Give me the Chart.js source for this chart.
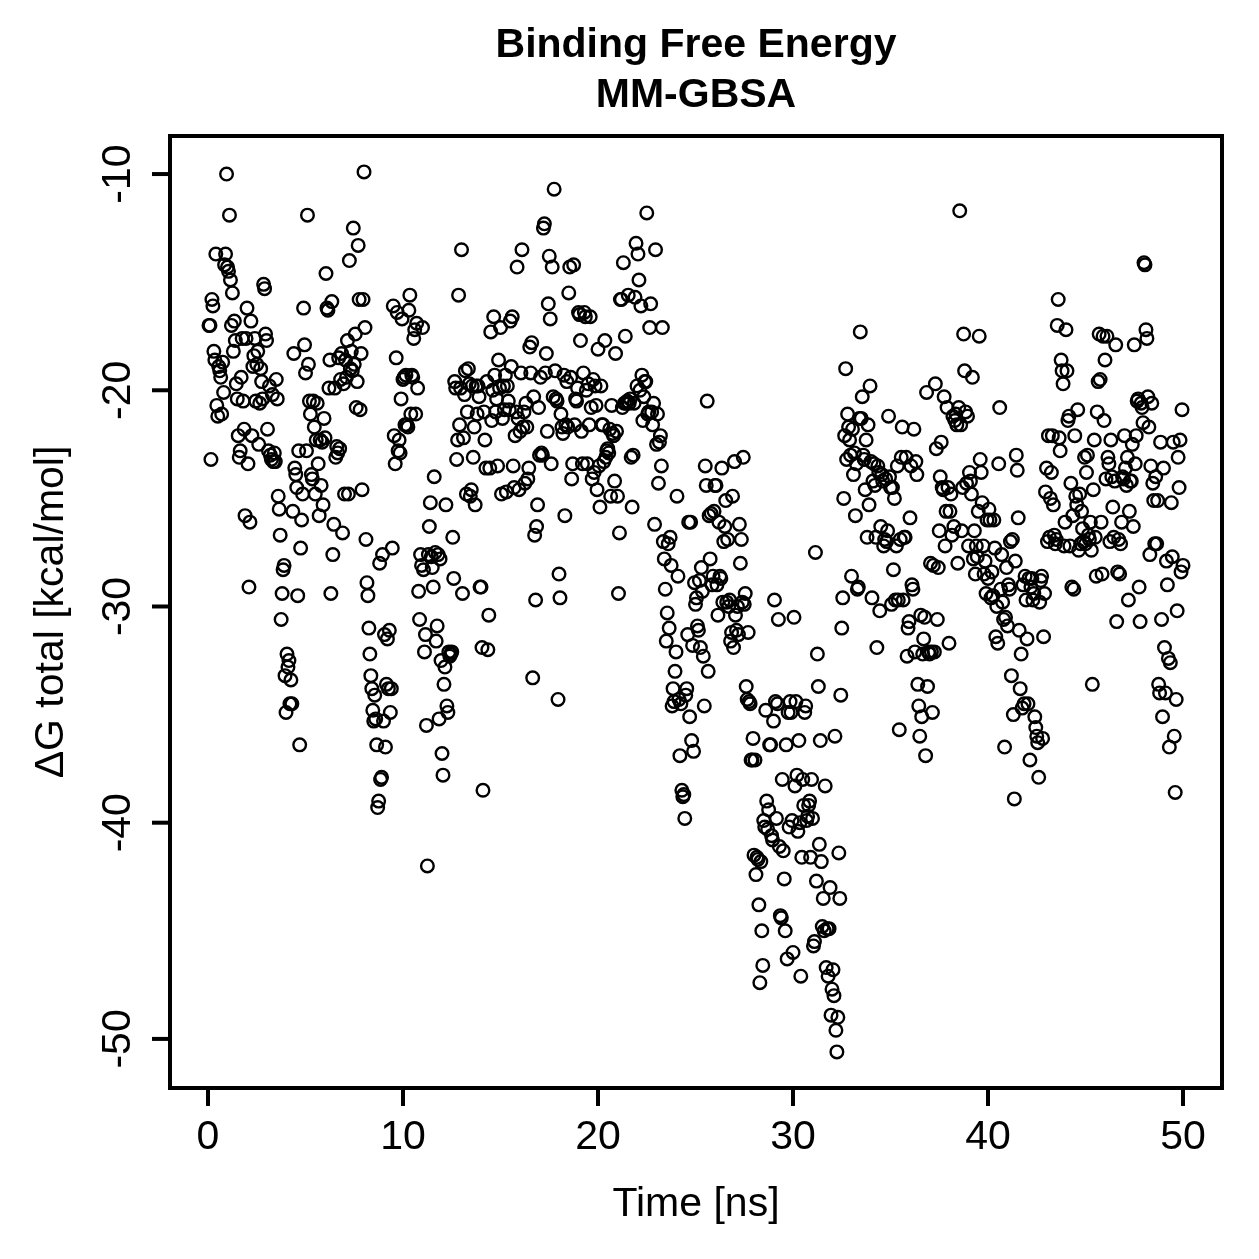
<!DOCTYPE html>
<html>
<head>
<meta charset="utf-8">
<script src="https://cdn.jsdelivr.net/npm/chart.js@4.4.1/dist/chart.umd.min.js"></script>
<style>
html,body{margin:0;padding:0;background:#fff;}
canvas{display:block;}
</style>
</head>
<body>
<canvas id="c" width="1259" height="1259"></canvas>
<script>
// Frame sampling step of the trajectory (ns per frame)
const frameStepNs = 0.05;

// ΔG total (kcal/mol), frames 1-200 (0-10 ns)
const dG_00_10ns = [
-17.0,-17.0,-23.2,-15.8,-16.1,-18.2,-18.6,-13.7,-20.7,-21.2,-18.9,-19.1,-19.4,-21.1,-18.7,-20.1,-14.2,-13.7,-10.0,-14.3,
-14.5,-11.9,-14.9,-17.0,-15.5,-18.2,-16.8,-17.7,-19.7,-20.4,-22.1,-23.1,-22.8,-19.4,-17.6,-20.5,-21.8,-25.8,-17.6,-16.2,
-23.4,-29.1,-26.1,-16.8,-22.1,-18.9,-18.4,-17.6,-20.5,-18.8,-18.2,-22.5,-20.6,-19.0,-19.6,-20.4,-15.1,-15.3,-17.4,-17.7,
-21.8,-22.8,-19.8,-23.0,-23.2,-20.2,-23.3,-22.9,-23.3,-19.5,-20.4,-24.9,-25.5,-26.7,-30.6,-29.4,-28.3,-28.1,-33.2,-34.9,
-32.2,-32.8,-32.5,-34.5,-33.4,-34.5,-25.6,-18.3,-23.6,-23.9,-24.5,-29.5,-22.8,-36.4,-27.3,-26.0,-24.8,-16.2,-17.9,-19.2,
-22.8,-11.9,-18.8,-20.5,-21.1,-23.9,-24.1,-20.5,-21.7,-24.8,-22.3,-20.6,-23.4,-25.8,-22.3,-24.4,-22.4,-25.3,-21.3,-22.2,
-14.6,-16.2,-16.3,-19.9,-18.6,-29.4,-15.9,-27.6,-26.2,-19.9,-23.1,-22.6,-22.9,-18.5,-22.7,-19.5,-18.3,-26.6,-19.7,-24.8,
-18.6,-19.4,-17.7,-24.8,-14.0,-19.0,-18.2,-19.1,-12.5,-18.8,-17.4,-20.8,-19.6,-13.3,-15.8,-20.9,-18.3,-24.6,-15.8,-9.9,
-17.1,-26.9,-28.9,-29.5,-31.0,-32.2,-33.2,-33.8,-34.8,-35.3,-34.1,-35.2,-36.4,-39.3,-39.0,-28.0,-38.0,-37.9,-27.6,-35.3,
-31.3,-36.5,-33.6,-31.5,-33.8,-31.1,-34.9,-33.8,-27.3,-16.1,-22.1,-23.4,-18.5,-16.4,-22.8,-22.3,-22.9,-20.4,-16.7,-19.5
];

// frames 201-400 (10-20 ns)
const dG_10_20ns = [
-19.4,-21.6,-19.3,-21.6,-21.7,-16.3,-15.6,-21.1,-19.3,-19.4,-17.6,-17.2,-21.1,-16.9,-19.9,-29.3,-30.6,-27.6,-28.1,-17.1,
-28.3,-32.1,-31.3,-35.5,-42.0,-27.6,-26.3,-25.2,-27.7,-28.2,-29.1,-24.0,-27.5,-31.6,-30.9,-27.6,-35.2,-27.8,-32.5,-36.8,
-37.8,-33.6,-32.8,-25.3,-34.6,-34.9,-32.1,-32.3,-32.2,-32.1,-26.8,-28.7,-19.6,-19.9,-23.2,-22.3,-15.6,-21.6,-19.9,-13.5,
-29.4,-22.2,-20.2,-19.1,-24.8,-21.0,-19.0,-19.7,-24.9,-24.6,-19.8,-23.1,-21.7,-25.3,-19.8,-21.1,-19.8,-20.3,-29.1,-29.1,
-31.9,-38.5,-21.0,-22.3,-23.6,-19.6,-32.0,-30.4,-23.6,-17.3,-21.4,-20.0,-16.6,-19.3,-21.0,-20.4,-23.5,-18.6,-19.9,-17.1,
-24.8,-21.3,-19.8,-20.9,-19.3,-24.7,-19.8,-20.5,-20.9,-16.8,-18.9,-16.6,-23.5,-24.5,-22.1,-21.0,-14.3,-21.3,-24.6,-21.9,
-19.2,-13.5,-21.7,-21.0,-24.3,-20.6,-21.7,-24.1,-23.6,-18.0,-19.2,-17.8,-33.3,-20.3,-26.7,-29.7,-26.3,-25.3,-20.8,-23.0,
-19.4,-22.9,-23.0,-12.5,-12.3,-19.2,-18.3,-21.9,-16.0,-13.8,-16.7,-23.4,-14.3,-20.3,-10.7,-19.1,-20.4,-20.5,-34.3,-28.5,
-29.6,-21.1,-21.7,-22.0,-19.3,-25.8,-21.6,-19.6,-21.7,-15.5,-14.3,-19.4,-24.1,-23.4,-14.2,-21.6,-20.4,-20.5,-19.9,-16.4,
-16.5,-17.7,-21.9,-23.4,-19.2,-16.4,-16.6,-20.0,-23.4,-19.7,-21.6,-16.6,-20.8,-24.1,-19.5,-23.8,-19.8,-20.7,-24.6,-18.1
];

// frames 401-600 (20-30 ns)
const dG_20_30ns = [
-23.5,-25.4,-19.8,-21.6,-21.6,-23.3,-17.7,-23.1,-22.8,-22.7,-22.9,-21.8,-24.9,-20.7,-22.0,-22.1,-24.2,-18.3,-21.9,-24.9,
-29.4,-26.6,-15.8,-15.8,-20.8,-14.1,-20.6,-17.5,-20.6,-20.5,-15.6,-20.6,-20.4,-23.1,-25.4,-23.0,-20.6,-15.7,-13.2,-19.8,
-13.7,-14.9,-20.0,-16.1,-19.3,-21.4,-20.3,-19.6,-19.6,-11.8,-21.1,-21.0,-17.1,-16.0,-21.0,-21.6,-20.6,-26.2,-13.5,-22.5,
-21.1,-24.3,-22.4,-22.1,-23.5,-17.1,-27.0,-27.8,-29.2,-31.6,-30.3,-27.1,-31.0,-26.8,-28.1,-34.6,-33.8,-34.4,-33.0,-32.1,
-24.9,-28.6,-34.3,-36.9,-34.5,-38.5,-38.8,-38.7,-39.8,-34.1,-33.8,-31.3,-26.1,-35.1,-26.1,-36.2,-31.8,-36.7,-28.9,-29.9,
-29.6,-30.9,-31.1,-28.8,-31.9,-28.2,-29.3,-32.3,-34.6,-23.5,-24.4,-20.5,-33.0,-25.8,-27.8,-25.7,-29.0,-28.6,-25.6,-24.4,
-24.4,-29.0,-30.4,-26.1,-28.6,-28.7,-23.6,-29.8,-27.0,-26.3,-25.1,-29.8,-26.9,-30.0,-29.7,-31.6,-31.2,-24.9,-31.9,-23.3,
-30.4,-31.1,-30.0,-31.3,-26.2,-28.0,-26.9,-29.8,-23.1,-29.9,-29.4,-33.7,-34.3,-31.2,-34.4,-34.5,-37.1,-37.1,-36.1,-41.5,
-37.1,-42.4,-41.6,-41.7,-43.8,-47.4,-41.8,-45.0,-46.6,-39.9,-40.2,-34.8,-39.0,-40.3,-39.4,-36.4,-36.4,-40.6,-40.8,-35.3,
-29.7,-34.4,-39.8,-34.5,-30.6,-41.1,-44.3,-44.4,-38.0,-41.3,-42.6,-45.0,-36.4,-46.3,-34.9,-40.2,-34.4,-34.9,-39.9,-46.0
];

// frames 601-800 (30-40 ns)
const dG_30_40ns = [
-30.5,-38.3,-34.4,-37.8,-40.4,-36.2,-40.0,-47.1,-41.6,-38.0,-39.2,-34.9,-34.6,-39.9,-39.7,-39.2,-39.0,-41.6,-38.0,-39.8,
-45.7,-45.5,-27.5,-42.7,-32.2,-33.7,-41.0,-36.2,-41.8,-44.8,-43.5,-45.0,-38.3,-46.7,-44.9,-47.1,-44.9,-43.0,-48.9,-47.7,
-46.8,-48.0,-36.0,-49.6,-50.6,-49.0,-41.4,-43.5,-34.1,-31.0,-29.6,-25.0,-22.1,-19.0,-23.2,-21.1,-21.7,-22.3,-23.0,-28.6,
-21.8,-23.9,-22.9,-25.8,-23.4,-29.2,-29.1,-21.3,-17.3,-21.3,-20.3,-23.0,-23.2,-24.6,-22.3,-26.8,-21.6,-25.3,-19.8,-23.3,
-29.6,-24.2,-23.4,-24.4,-26.8,-31.9,-23.5,-23.8,-30.2,-26.3,-23.9,-24.2,-27.2,-26.9,-24.1,-27.0,-26.5,-21.2,-24.0,-24.5,
-29.9,-24.5,-28.3,-25.0,-29.7,-27.2,-23.5,-29.7,-35.7,-26.9,-23.1,-21.7,-29.7,-26.8,-26.8,-23.1,-32.3,-31.0,-30.7,-25.9,
-23.5,-29.0,-29.2,-21.8,-32.1,-23.3,-23.9,-33.6,-34.6,-36.0,-30.4,-35.1,-32.2,-31.5,-30.5,-36.9,-20.1,-33.7,-32.1,-32.2,
-28.0,-32.1,-34.9,-28.1,-32.1,-19.7,-22.7,-30.6,-28.2,-26.5,-24.0,-22.4,-24.5,-24.6,-20.3,-27.2,-25.6,-20.8,-24.5,-31.7,
-25.6,-24.8,-26.7,-21.2,-26.3,-21.4,-21.1,-21.6,-28.0,-20.8,-11.7,-21.6,-26.5,-24.5,-17.4,-19.1,-21.0,-24.3,-21.2,-27.2,
-23.8,-24.2,-24.8,-19.4,-27.8,-26.5,-28.5,-27.2,-27.7,-25.6,-17.5,-23.2,-23.8,-25.2,-27.2,-28.5,-27.9,-29.4,-26.0,-28.7
];

// frames 801-1000 (40-50 ns)
const dG_40_50ns = [
-25.5,-26.0,-29.6,-28.4,-29.5,-26.0,-27.3,-31.4,-30.0,-31.7,-23.4,-20.8,-29.2,-27.6,-29.8,-30.6,-36.5,-30.5,-28.2,-30.9,
-29.0,-29.2,-27.0,-33.2,-26.9,-35.0,-38.9,-27.9,-23.0,-23.7,-25.9,-31.1,-33.8,-32.2,-34.7,-29.0,-34.5,-28.6,-29.7,-31.5,
-34.5,-28.7,-37.1,-29.1,-28.7,-29.7,-29.4,-35.1,-35.6,-36.0,-36.3,-37.9,-29.8,-28.8,-28.6,-36.1,-31.4,-29.4,-24.7,-23.6,
-27.0,-22.1,-26.8,-25.0,-23.8,-22.1,-25.3,-26.7,-27.1,-26.9,-17.0,-15.8,-22.2,-22.8,-18.6,-19.1,-19.7,-27.2,-26.1,-17.2,
-19.1,-21.4,-21.2,-27.2,-24.3,-29.1,-25.8,-29.2,-22.1,-24.9,-25.3,-20.9,-27.4,-24.8,-27.1,-25.6,-26.4,-27.0,-23.1,-27.1,
-23.8,-23.0,-26.7,-26.9,-26.1,-27.4,-33.6,-24.6,-22.3,-26.8,-28.6,-21.0,-19.6,-17.4,-19.5,-26.1,-28.5,-17.5,-21.4,-18.6,
-24.1,-17.5,-23.1,-23.4,-27.0,-22.3,-24.0,-25.4,-26.8,-24.2,-17.9,-30.7,-28.4,-26.9,-28.5,-27.1,-26.1,-24.0,-24.1,-22.1,
-23.6,-24.4,-23.1,-29.7,-25.6,-24.2,-24.2,-22.5,-26.3,-17.9,-23.4,-22.1,-20.5,-20.4,-29.1,-30.7,-20.6,-20.8,-21.5,-14.1,
-14.2,-17.2,-17.6,-20.3,-21.7,-27.6,-23.5,-20.6,-24.3,-25.1,-27.1,-24.0,-27.1,-25.1,-33.6,-34.0,-22.4,-30.6,-35.1,-23.6,
-31.9,-34.0,-27.9,-29.0,-32.4,-36.5,-32.6,-25.2,-27.7,-22.4,-36.0,-38.6,-34.3,-30.2,-23.1,-24.5,-22.3,-28.4,-20.9,-28.1
];

const xTicks = [0, 10, 20, 30, 40, 50];
const yTicks = [-10, -20, -30, -40, -50];
const titleLines = ['Binding Free Energy', 'MM-GBSA'];
const xTitle = 'Time [ns]';
const yTitle = '\u0394G total [kcal/mol]';

const allDG = [].concat(dG_00_10ns, dG_10_20ns, dG_20_30ns, dG_30_40ns, dG_40_50ns);
const points = allDG.map((v, i) => ({ x: +((i + 1) * frameStepNs).toFixed(2), y: v }));

const FONT = '"Liberation Sans", Arial, Helvetica, sans-serif';

const rAxes = {
  id: 'rAxes',
  beforeDraw(chart) {
    const ctx = chart.ctx;
    ctx.save();
    ctx.fillStyle = '#fff';
    ctx.fillRect(0, 0, chart.width, chart.height);
    ctx.restore();
  },
  afterDraw(chart) {
    const ctx = chart.ctx;
    const a = chart.chartArea;
    const xs = chart.scales.x, ys = chart.scales.y;
    ctx.save();
    ctx.strokeStyle = '#000';
    ctx.fillStyle = '#000';
    ctx.lineWidth = 4;
    ctx.lineCap = 'butt';
    ctx.lineJoin = 'miter';
    // box
    ctx.strokeRect(a.left, a.top, a.right - a.left, a.bottom - a.top);
    // x ticks
    ctx.font = '41px ' + FONT;
    ctx.textAlign = 'center';
    ctx.textBaseline = 'alphabetic';
    xTicks.forEach(v => {
      const px = xs.getPixelForValue(v);
      ctx.beginPath();
      ctx.moveTo(px, a.bottom);
      ctx.lineTo(px, a.bottom + 18);
      ctx.stroke();
      ctx.fillText(String(v), px, 1149);
    });
    // y ticks
    yTicks.forEach(v => {
      const py = ys.getPixelForValue(v);
      ctx.beginPath();
      ctx.moveTo(a.left, py);
      ctx.lineTo(a.left - 18, py);
      ctx.stroke();
      ctx.save();
      ctx.translate(130, py);
      ctx.rotate(-Math.PI / 2);
      ctx.fillText(String(v), 0, 0);
      ctx.restore();
    });
    // axis titles
    const cx = (a.left + a.right) / 2;
    const cy = (a.top + a.bottom) / 2;
    ctx.fillText(xTitle, cx, 1216);
    ctx.save();
    ctx.translate(63, cy);
    ctx.rotate(-Math.PI / 2);
    ctx.fillText(yTitle, 0, 0);
    ctx.restore();
    // main title
    ctx.font = 'bold 41px ' + FONT;
    ctx.fillText(titleLines[0], cx, 57);
    ctx.fillText(titleLines[1], cx, 107);
    ctx.restore();
  }
};

new Chart(document.getElementById('c'), {
  type: 'scatter',
  data: {
    datasets: [{
      data: points,
      pointStyle: 'circle',
      pointRadius: 6.3,
      pointHoverRadius: 6.3,
      pointBorderWidth: 2.4,
      borderColor: '#000',
      backgroundColor: 'rgba(0,0,0,0)',
      showLine: false,
      clip: false
    }]
  },
  options: {
    responsive: false,
    animation: false,
    events: [],
    layout: { padding: { left: 170, right: 37, top: 136, bottom: 171 } },
    scales: {
      x: { type: 'linear', min: -1.95, max: 52.0, display: false },
      y: { type: 'linear', min: -52.27, max: -8.24, display: false }
    },
    plugins: { legend: { display: false }, tooltip: { enabled: false }, title: { display: false } }
  },
  plugins: [rAxes]
});
</script>
</body>
</html>
